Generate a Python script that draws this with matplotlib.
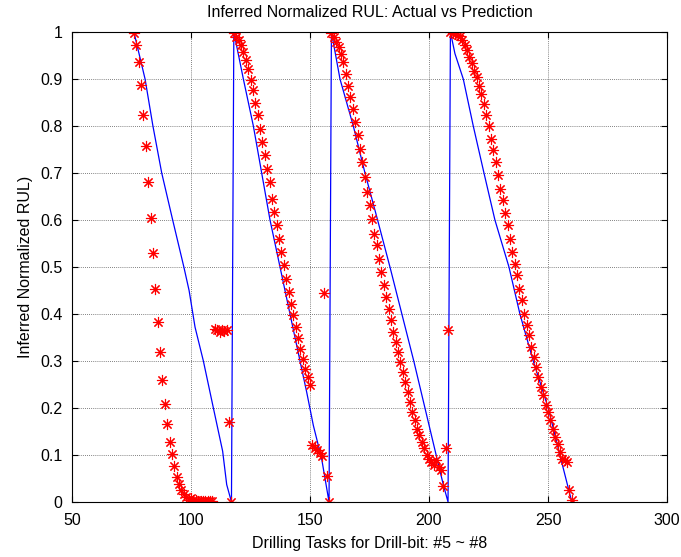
import numpy as np
import matplotlib
matplotlib.use("Agg")
import matplotlib.pyplot as plt
from matplotlib.ticker import FuncFormatter

plt.rcParams['font.family'] = ['Liberation Sans', 'DejaVu Sans']

# task ranges of the four drill bits (#5 ~ #8)
task_start = [76, 118, 159, 209]
task_end = [117, 158, 208, 260]

# actual normalized RUL (blue line), vertices per drill bit
act1_x = [76, 80.7, 84, 87.7, 92.3, 97, 99.2, 101.7, 105.2, 109.4, 113.3, 115, 117]
act1_y = [1, .9, .8, .7, .6, .5, .45, .372, .30, .20, .108, .037, 0]
act2_x = [118, 122, 126.2, 129.7, 133.2, 137.4, 141.6, 145.8, 148.6, 151.4, 154.9, 158]
act2_y = [1, .9, .8, .7, .6, .5, .4, .3, .234, .163, .092, 0]
act3_x = [159, 162.6, 168.2, 173.1, 178.4, 183.6, 188.6, 193.6, 198.3, 203, 206, 208]
act3_y = [1, .9, .8, .7, .6, .5, .4, .3, .2, .1, .037, 0]
act4_x = [209, 210.9, 214.4, 218.6, 223.1, 227.7, 233.6, 238.2, 243.8, 250.1, 255, 260]
act4_y = [1, .954, .9, .8, .7, .6, .5, .4, .3, .2, .1, 0]

# predicted RUL (red stars), one per task
pred1 = [0.997, 0.972, 0.936, 0.887, 0.823, 0.757, 0.681, 0.605, 0.530, 0.454,
         0.383, 0.319, 0.260, 0.209, 0.167, 0.128, 0.103, 0.076, 0.053, 0.039,
         0.026, 0.018, 0.011, 0.005,
         0.008, 0.005, 0.004, 0.003, 0.002, 0.002, 0.003, 0.002, 0.003, 0.002,
         0.368, 0.365, 0.362, 0.366, 0.364, 0.367, 0.17, 0.0]
pred2 = [0.997, 0.989, 0.982, 0.972, 0.957, 0.940, 0.922, 0.897, 0.876, 0.848,
         0.823, 0.794, 0.766, 0.738, 0.709, 0.681, 0.645, 0.617, 0.589, 0.560,
         0.532, 0.504, 0.475, 0.447, 0.422, 0.397, 0.372, 0.348, 0.326, 0.305,
         0.284, 0.266, 0.248,
         0.122, 0.115, 0.110, 0.105, 0.098, 0.445, 0.055, 0.0]
pred3 = [0.997, 0.989, 0.979, 0.968, 0.954, 0.936, 0.911, 0.886, 0.862, 0.837,
         0.809, 0.780, 0.752, 0.723, 0.692, 0.660, 0.631, 0.603, 0.571, 0.546,
         0.518, 0.490, 0.461, 0.436, 0.411, 0.387, 0.362, 0.340, 0.319, 0.298,
         0.277, 0.255, 0.234, 0.213, 0.192, 0.174, 0.156, 0.142, 0.128, 0.114,
         0.100, 0.092, 0.085, 0.078, 0.090, 0.075, 0.068, 0.035, 0.115, 0.365]
pred4 = [1.0, 0.998, 0.996, 0.994, 0.992, 0.982, 0.972, 0.961, 0.947, 0.933,
         0.918, 0.904, 0.886, 0.869, 0.847, 0.823, 0.801, 0.773, 0.748, 0.723,
         0.695, 0.667, 0.642, 0.614, 0.589, 0.560, 0.532, 0.507, 0.482, 0.454,
         0.429, 0.401, 0.376, 0.355, 0.330, 0.309, 0.287, 0.266, 0.245, 0.227,
         0.206, 0.192, 0.174, 0.156, 0.138, 0.124, 0.107, 0.092, 0.089, 0.085,
         0.025, 0.004]

xticks = [50, 100, 150, 200, 250, 300]
yticks = np.round(np.arange(0, 1.01, 0.1), 1)

act_x = act1_x + act2_x + act3_x + act4_x
act_y = act1_y + act2_y + act3_y + act4_y
pred_x = np.concatenate([np.arange(s, e + 1) for s, e in zip(task_start, task_end)])
pred_y = pred1 + pred2 + pred3 + pred4

fig = plt.figure(figsize=(6.81, 5.57), dpi=100)
ax = fig.add_axes([72/681, 1-502/557, 595/681, 470/557])

ax.plot(act_x, act_y, color='b', lw=0.9)
ax.plot(pred_x, pred_y, linestyle='none', marker=(8, 2, 0), markersize=8,
        markeredgewidth=0.8, color='r')

ax.set_xlim(50, 300)
ax.set_ylim(0, 1)
ax.set_xticks(xticks)
ax.set_yticks(yticks)
ax.yaxis.set_major_formatter(FuncFormatter(lambda v, p: '%g' % v))
ax.grid(True, color='0.35', linestyle=(0, (1, 1.5)), linewidth=0.6)
ax.tick_params(direction='in', top=True, right=True, length=4, labelsize=11.5)
ax.tick_params(axis='x', pad=8)
ax.tick_params(axis='y', pad=7)
for s in ax.spines.values():
    s.set_linewidth(0.8)

ax.set_title('Inferred Normalized RUL: Actual vs Prediction', fontsize=11.5, pad=11)
ax.set_xlabel('Drilling Tasks for Drill-bit: #5 ~ #8', fontsize=11.5, labelpad=6)
ax.set_ylabel('Inferred Normalized RUL)', fontsize=11.5, labelpad=5)

fig.savefig('out.png', dpi=100)
